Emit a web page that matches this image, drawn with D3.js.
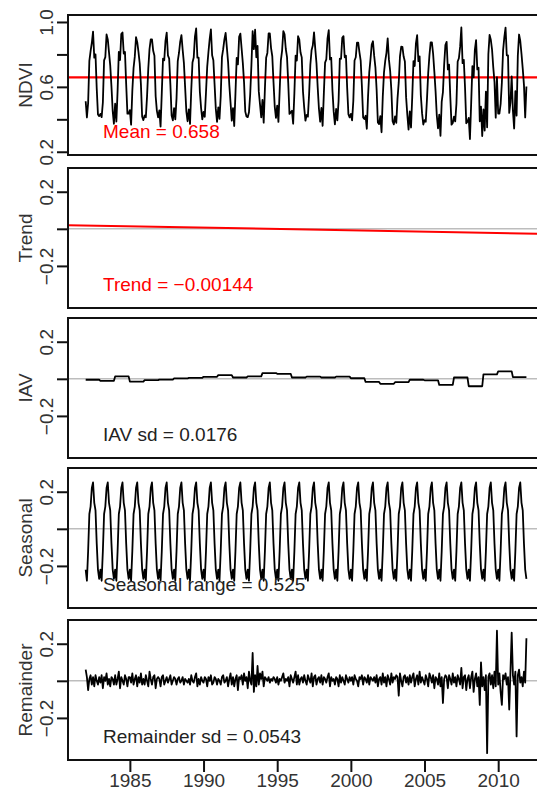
<!DOCTYPE html>
<html>
<head>
<meta charset="utf-8">
<script src="https://cdnjs.cloudflare.com/ajax/libs/d3/7.8.5/d3.min.js"></script>
<style>
  body { margin: 0; background: #fff; }
  svg { display: block; font-family: "Liberation Sans", Arial, sans-serif; }
</style>
</head>
<body>
<div id="chart"></div>
<script>
// ---- data (monthly, Jan 1982 - Dec 2011) ----
const startYear = 1982;
const perYear = 12;
const ndviMean = 0.658;
const trendSlope = -0.00144;     // per year
const trendAt1982 = 0.018;

// one year of the seasonal component, Jan..Dec
const seasonal = [-0.22, -0.28, -0.12, 0.08, 0.12, 0.22, 0.25, 0.14, 0.10, -0.08, -0.22, -0.27];

// inter-annual variability, one value per year 1982..2011
const iav = [-0.005, -0.011, 0.013, -0.015, -0.007, -0.004, 0.002, 0.005, 0.011, 0.020,
             0.007, 0.013, 0.031, 0.027, 0.007, 0.012, 0.007, 0.012, 0.003, -0.017,
             -0.027, -0.018, -0.005, -0.008, -0.033, 0.007, -0.040, 0.024, 0.040, 0.009];

// remainder, 12 values per year
const remainder = [
  0.06, 0.02, -0.05, 0.01, 0.03, -0.02, 0.02, -0.03, 0.03, 0.00, -0.02, 0.02,
  -0.01, 0.03, -0.04, 0.02, 0.00, 0.04, -0.02, 0.01, -0.03, 0.02, 0.01, -0.02,
  0.03, -0.02, 0.01, 0.05, -0.04, 0.02, 0.00, -0.02, 0.03, 0.01, -0.03, 0.02,
  0.02, -0.01, 0.04, -0.02, 0.01, 0.03, -0.03, 0.02, -0.01, 0.04, -0.02, 0.01,
  -0.02, 0.03, 0.00, -0.03, 0.05, 0.01, -0.02, 0.02, 0.03, -0.04, 0.01, 0.02,
  0.01, -0.03, 0.02, 0.03, -0.02, 0.00, 0.02, -0.01, 0.01, 0.03, -0.02, 0.00,
  0.02, 0.01, -0.02, 0.01, 0.02, -0.01, 0.00, 0.02, -0.02, 0.01, 0.00, -0.01,
  0.01, -0.02, 0.03, 0.00, -0.01, 0.02, 0.04, -0.03, 0.01, -0.02, 0.02, 0.00,
  -0.01, 0.02, 0.01, -0.03, 0.02, 0.00, 0.03, -0.02, -0.01, 0.02, 0.01, -0.02,
  0.01, 0.00, -0.02, 0.02, 0.03, -0.01, 0.00, 0.02, -0.03, 0.01, 0.04, -0.02,
  0.02, -0.03, 0.01, 0.03, -0.05, 0.02, 0.01, 0.03, -0.02, 0.04, 0.00, 0.02,
  -0.04, 0.05, 0.00, -0.02, 0.15, -0.06, 0.03, -0.03, 0.08, -0.02, 0.04, 0.01,
  0.05, -0.03, 0.02, 0.01, 0.00, 0.02, -0.01, 0.01, 0.00, 0.02, 0.01, -0.01,
  0.02, -0.02, 0.01, 0.00, 0.02, 0.04, -0.01, 0.01, 0.00, 0.02, -0.03, 0.03,
  0.01, -0.01, 0.02, 0.05, -0.02, 0.03, -0.02, 0.01, 0.02, -0.01, 0.03, 0.00,
  -0.02, 0.03, 0.01, -0.01, 0.04, -0.03, 0.02, 0.03, -0.02, 0.01, 0.02, -0.01,
  0.03, -0.02, 0.02, 0.01, -0.01, 0.02, 0.04, -0.03, 0.02, 0.00, 0.01, -0.02,
  0.02, 0.01, -0.03, 0.03, -0.01, 0.02, 0.00, -0.02, 0.03, 0.01, -0.01, 0.02,
  0.00, 0.02, -0.02, 0.03, 0.01, 0.00, -0.03, 0.02, 0.01, 0.03, -0.02, 0.02,
  0.01, -0.01, 0.03, -0.02, 0.02, 0.01, 0.00, 0.02, -0.01, 0.03, -0.03, 0.01,
  0.02, -0.02, 0.04, -0.01, 0.02, -0.03, 0.03, 0.01, -0.02, 0.04, -0.01, 0.02,
  0.01, 0.03, 0.02, -0.08, 0.04, 0.00, -0.03, 0.02, 0.03, -0.01, 0.02, -0.02,
  0.03, -0.01, 0.02, 0.04, -0.03, 0.01, 0.03, -0.02, 0.05, -0.01, 0.02, 0.00,
  -0.02, 0.03, 0.01, -0.03, 0.04, 0.02, -0.01, 0.03, -0.04, 0.02, 0.01, -0.02,
  0.04, -0.03, 0.02, -0.12, 0.01, 0.03, 0.02, -0.04, 0.03, 0.01, -0.02, 0.04,
  -0.01, 0.02, -0.03, 0.03, 0.01, -0.02, 0.07, -0.04, 0.02, 0.03, -0.05, 0.01,
  0.03, -0.04, 0.02, 0.05, -0.06, 0.01, 0.04, -0.03, 0.02, -0.13, 0.10, -0.03,
  0.02, -0.05, 0.03, -0.39, 0.02, 0.04, -0.02, 0.03, -0.04, 0.05, -0.03, 0.27,
  -0.02, 0.04, -0.06, -0.13, 0.03, 0.01, 0.04, -0.02, 0.02, -0.155, 0.05, 0.26,
  0.03, -0.02, 0.05, -0.30, 0.03, 0.06, -0.01, 0.02, -0.03, 0.05, -0.01, 0.23
];

const xTicks = [1985, 1990, 1995, 2000, 2005, 2010];
const panelNames = ["NDVI", "Trend", "IAV", "Seasonal", "Remainder"];
const panelTexts = ["Mean = 0.658", "Trend = \u22120.00144", "IAV sd = 0.0176",
                    "Seasonal range = 0.525", "Remainder sd = 0.0543"];

// ---- build the monthly series ----
const time = remainder.map((_, i) => startYear + i / perYear);
const trendS = time.map(t => trendAt1982 + trendSlope * (t - startYear));
const iavS = time.map((_, i) => iav[Math.floor(i / perYear)]);
const seasS = time.map((_, i) => seasonal[i % perYear]);
const ndviS = time.map((_, i) => ndviMean + trendS[i] + iavS[i] + seasS[i] + remainder[i]);

// ---- layout ----
const width = 537, height = 793;
const left = 68, right = 544;          // right edge runs off the page, as in the original
const panelTops = [15, 168, 318, 468, 620];
const panelH = 140;
const fontSize = 19;

const svg = d3.select("#chart").append("svg")
  .attr("width", width)
  .attr("height", height);

const x = d3.scaleLinear().domain([1980.80, 2013.11]).range([left, right]);

const line = (yScale) => d3.line().x(d => x(d[0])).y(d => yScale(d[1]));

panelNames.forEach((name, p) => {
  const top = panelTops[p], bottom = top + panelH;
  const y = p === 0
    ? d3.scaleLinear().domain([0.18, 1.043]).range([bottom, top])
    : d3.scaleLinear().domain([-0.427, 0.328]).range([bottom, top]);

  const g = svg.append("g");
  const clipId = "clip" + p;
  g.append("clipPath").attr("id", clipId)
    .append("rect").attr("x", left).attr("y", top).attr("width", right - left).attr("height", panelH);
  const plot = g.append("g").attr("clip-path", `url(#${clipId})`);

  // reference lines
  if (p === 0) {
    plot.append("line")
      .attr("x1", left).attr("x2", right)
      .attr("y1", y(ndviMean)).attr("y2", y(ndviMean))
      .attr("stroke", "#ff0000").attr("stroke-width", 2.2);
  } else {
    plot.append("line")
      .attr("x1", left).attr("x2", right)
      .attr("y1", y(0)).attr("y2", y(0))
      .attr("stroke", "#bdbdbd").attr("stroke-width", 1.6);
  }

  // series
  let series;
  if (p === 0) series = ndviS;
  else if (p === 2) series = iavS;
  else if (p === 3) series = seasS;
  else if (p === 4) series = remainder;

  if (series) {
    plot.append("path")
      .datum(time.map((t, i) => [t, series[i]]))
      .attr("fill", "none")
      .attr("stroke", "#000")
      .attr("stroke-width", 1.8)
      .attr("stroke-linejoin", "round")
      .attr("d", line(y));
  } else {
    // trend drawn across the whole panel like abline()
    const ends = x.domain().map(t => [t, trendAt1982 + trendSlope * (t - startYear)]);
    plot.append("path")
      .datum(ends)
      .attr("fill", "none")
      .attr("stroke", "#ff0000")
      .attr("stroke-width", 2)
      .attr("d", line(y));
  }

  // y axis, R style: rotated labels, some ticks unlabelled
  const yTicks = p === 0 ? [0.2, 0.4, 0.6, 0.8, 1.0] : [-0.2, 0, 0.2];
  const yLabels = p === 0 ? [0.2, 0.6, 1.0] : [-0.2, 0.2];
  const ax = g.append("g")
    .attr("transform", `translate(${left},0)`)
    .call(d3.axisLeft(y).tickValues(yTicks).tickSize(11)
      .tickFormat(d => yLabels.some(v => Math.abs(v - d) < 1e-9) ? d3.format(".1f")(d).replace("-", "\u2212") : ""));
  ax.select(".domain").remove();
  ax.selectAll(".tick line").attr("stroke", "#111").attr("stroke-width", 2);
  ax.selectAll(".tick text")
    .attr("transform", "rotate(-90)")
    .attr("x", 0).attr("y", -15).attr("dy", null)
    .attr("text-anchor", "middle")
    .attr("fill", "#333")
    .style("font-size", fontSize + "px")
    .style("font-family", "'Liberation Sans', Arial, sans-serif");

  // axis title
  g.append("text")
    .attr("transform", `translate(32,${top + panelH / 2}) rotate(-90)`)
    .attr("text-anchor", "middle")
    .attr("fill", "#333")
    .style("font-size", fontSize + "px")
    .text(name);

  // annotation
  g.append("text")
    .attr("x", 103)
    .attr("y", top + 123)
    .attr("fill", p < 2 ? "#ff0000" : "#222")
    .style("font-size", fontSize + "px")
    .text(panelTexts[p]);

  // box
  g.append("rect")
    .attr("x", left).attr("y", top)
    .attr("width", right - left).attr("height", panelH)
    .attr("fill", "none").attr("stroke", "#111").attr("stroke-width", 2);

  // x axis under the last panel only
  if (p === panelNames.length - 1) {
    const xa = g.append("g")
      .attr("transform", `translate(0,${bottom})`)
      .call(d3.axisBottom(x).tickValues(xTicks).tickSize(12).tickPadding(2).tickFormat(d3.format("d")));
    xa.select(".domain").remove();
    xa.selectAll(".tick line").attr("stroke", "#111").attr("stroke-width", 2);
    xa.selectAll(".tick text")
      .attr("fill", "#333")
      .style("font-size", fontSize + "px")
      .style("font-family", "'Liberation Sans', Arial, sans-serif");
  }
});
</script>
</body>
</html>
